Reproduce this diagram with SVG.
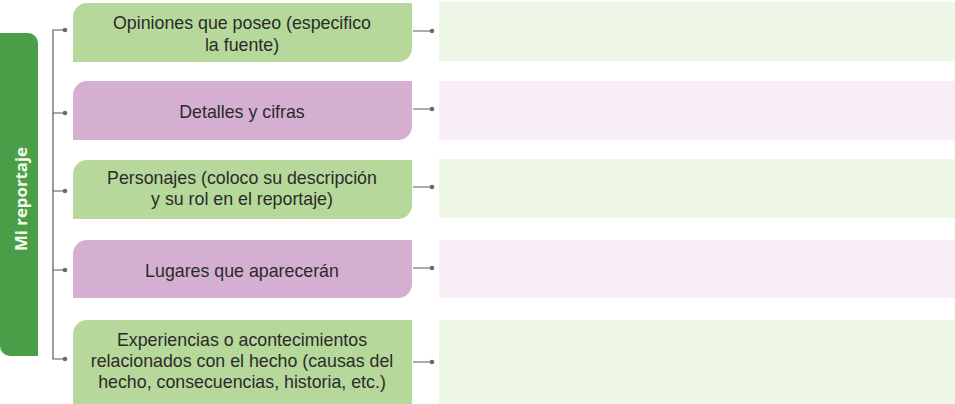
<svg xmlns="http://www.w3.org/2000/svg" width="955" height="404" viewBox="0 0 955 404">
<style>
.g{fill:#b6d89a}
.p{fill:#d4afd2}
.lg{fill:#eef7e6}
.lp{fill:#f7eef7}
.t{font-family:"Liberation Sans",Arial,sans-serif;font-size:17.8px;fill:#2b2b2b;text-anchor:middle}
.ln{stroke:#5a5a5a;stroke-width:1.2;fill:none}
.dot{fill:#6a6a6a}
</style>
<rect width="955" height="404" fill="#ffffff"/>
<g id="mi-reportaje">
<path d="M0,33 H28 A10,10 0 0 1 38,43 V356 H10 A10,10 0 0 1 0,346 Z" fill="#4b9e48"/>
<text x="20" y="199" transform="rotate(-90 20 199)" font-family="'Open Sans','Noto Sans',sans-serif" font-size="16.8" font-weight="bold" fill="#f4fbec" text-anchor="middle" dominant-baseline="central">Mi reportaje</text>
</g>
<g id="connectors">
<path class="ln" d="M65,30 H53 V359 H65 M53,113 H65 M53,191 H65 M53,270 H65"/>
<circle class="dot" cx="65" cy="30" r="2.3"/>
<circle class="dot" cx="65" cy="113" r="2.3"/>
<circle class="dot" cx="65" cy="191" r="2.3"/>
<circle class="dot" cx="65" cy="270" r="2.3"/>
<circle class="dot" cx="65" cy="359" r="2.3"/>
<path class="ln" d="M413,31 H432 M413,109 H432 M413,187 H432 M413,268 H432 M413,362 H432"/>
<circle class="dot" cx="432" cy="31" r="2.3"/>
<circle class="dot" cx="432" cy="109" r="2.3"/>
<circle class="dot" cx="432" cy="187" r="2.3"/>
<circle class="dot" cx="432" cy="268" r="2.3"/>
<circle class="dot" cx="432" cy="362" r="2.3"/>
</g>
<g id="n1">
<path class="g" d="M88,3 H412 V48 A14,14 0 0 1 398,62 H73 V17 A14,14 0 0 1 88,3 Z"/>
<text class="t" x="242" y="29">Opiniones que poseo (especifico</text>
<text class="t" x="242" y="51">la fuente)</text>
<rect class="lg" x="439" y="2" width="516" height="59"/>
</g>
<g id="n2">
<path class="p" d="M88,81 H412 V126 A14,14 0 0 1 398,140 H73 V95 A14,14 0 0 1 88,81 Z"/>
<text class="t" x="242" y="118">Detalles y cifras</text>
<rect class="lp" x="439" y="81" width="516" height="59"/>
</g>
<g id="n3">
<path class="g" d="M88,160 H412 V205 A14,14 0 0 1 398,219 H73 V174 A14,14 0 0 1 88,160 Z"/>
<text class="t" x="242" y="184">Personajes (coloco su descripción</text>
<text class="t" x="242" y="205">y su rol en el reportaje)</text>
<rect class="lg" x="439" y="159" width="516" height="59"/>
</g>
<g id="n4">
<path class="p" d="M88,240 H412 V284 A14,14 0 0 1 398,298 H73 V254 A14,14 0 0 1 88,240 Z"/>
<text class="t" x="242" y="277">Lugares que aparecerán</text>
<rect class="lp" x="439" y="240" width="516" height="58"/>
</g>
<g id="n5">
<path class="g" d="M88,320 H412 V410 H73 V334 A14,14 0 0 1 88,320 Z"/>
<text class="t" x="242" y="346">Experiencias o acontecimientos</text>
<text class="t" x="242" y="367">relacionados con el hecho (causas del</text>
<text class="t" x="242" y="388">hecho, consecuencias, historia, etc.)</text>
<rect class="lg" x="439" y="320" width="516" height="84"/>
</g>
</svg>
